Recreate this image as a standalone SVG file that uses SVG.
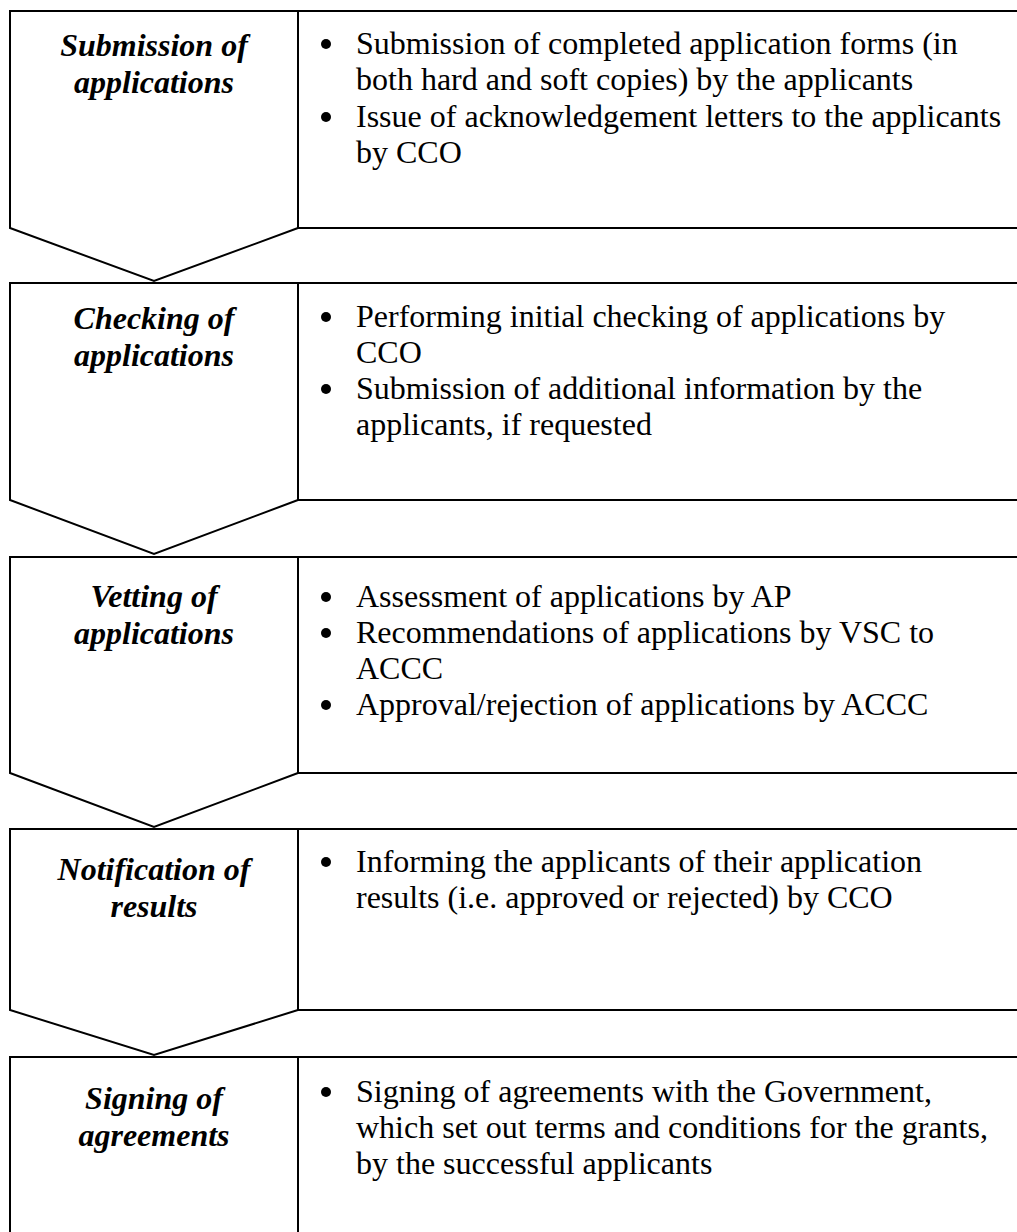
<svg xmlns="http://www.w3.org/2000/svg" width="1017" height="1232" viewBox="0 0 1017 1232">
  <style>
    .shape { fill: #ffffff; stroke: #000000; stroke-width: 2; stroke-linejoin: miter; }
    .title { font-family: "Liberation Serif", "Times New Roman", serif; font-size: 32px; font-weight: bold; font-style: italic; fill: #000000; text-anchor: middle; }
    .item  { font-family: "Liberation Serif", "Times New Roman", serif; font-size: 32px; fill: #000000; }
    .dot   { fill: #000000; }
  </style>
  <rect x="0" y="0" width="1017" height="1232" fill="#ffffff"/>

  <!-- Stage 1 -->
  <g id="stage-submission">
    <polygon class="shape" points="10,11 298,11 298,228 154,281 10,228"/>
    <rect class="shape" x="298" y="11" width="730" height="217"/>
    <text class="title" x="154" y="56">Submission of</text>
    <text class="title" x="154" y="93">applications</text>
    <circle class="dot" cx="326" cy="44" r="5"/>
    <text class="item" x="356" y="54">Submission of completed application forms (in</text>
    <text class="item" x="356" y="90">both hard and soft copies) by the applicants</text>
    <circle class="dot" cx="326" cy="117" r="5"/>
    <text class="item" x="356" y="127">Issue of acknowledgement letters to the applicants</text>
    <text class="item" x="356" y="163">by CCO</text>
  </g>

  <!-- Stage 2 -->
  <g id="stage-checking">
    <polygon class="shape" points="10,283 298,283 298,500 154,554 10,500"/>
    <rect class="shape" x="298" y="283" width="730" height="217"/>
    <text class="title" x="154" y="329">Checking of</text>
    <text class="title" x="154" y="366">applications</text>
    <circle class="dot" cx="326" cy="317" r="5"/>
    <text class="item" x="356" y="327">Performing initial checking of applications by</text>
    <text class="item" x="356" y="363">CCO</text>
    <circle class="dot" cx="326" cy="389" r="5"/>
    <text class="item" x="356" y="399">Submission of additional information by the</text>
    <text class="item" x="356" y="435">applicants, if requested</text>
  </g>

  <!-- Stage 3 -->
  <g id="stage-vetting">
    <polygon class="shape" points="10,557 298,557 298,773 154,827 10,773"/>
    <rect class="shape" x="298" y="557" width="730" height="216"/>
    <text class="title" x="154" y="607">Vetting of</text>
    <text class="title" x="154" y="644">applications</text>
    <circle class="dot" cx="326" cy="597" r="5"/>
    <text class="item" x="356" y="607">Assessment of applications by AP</text>
    <circle class="dot" cx="326" cy="633" r="5"/>
    <text class="item" x="356" y="643">Recommendations of applications by VSC to</text>
    <text class="item" x="356" y="679">ACCC</text>
    <circle class="dot" cx="326" cy="705" r="5"/>
    <text class="item" x="356" y="715">Approval/rejection of applications by ACCC</text>
  </g>

  <!-- Stage 4 -->
  <g id="stage-notification">
    <polygon class="shape" points="10,829 298,829 298,1010 154,1055 10,1010"/>
    <rect class="shape" x="298" y="829" width="730" height="181"/>
    <text class="title" x="154" y="880">Notification of</text>
    <text class="title" x="154" y="917">results</text>
    <circle class="dot" cx="326" cy="862" r="5"/>
    <text class="item" x="356" y="872">Informing the applicants of their application</text>
    <text class="item" x="356" y="908">results (i.e. approved or rejected) by CCO</text>
  </g>

  <!-- Stage 5 -->
  <g id="stage-signing">
    <polygon class="shape" points="10,1057 298,1057 298,1250 10,1250"/>
    <rect class="shape" x="298" y="1057" width="730" height="193"/>
    <text class="title" x="154" y="1109">Signing of</text>
    <text class="title" x="154" y="1146">agreements</text>
    <circle class="dot" cx="326" cy="1092" r="5"/>
    <text class="item" x="356" y="1102">Signing of agreements with the Government,</text>
    <text class="item" x="356" y="1138">which set out terms and conditions for the grants,</text>
    <text class="item" x="356" y="1174">by the successful applicants</text>
  </g>

  <!-- The stage-to-stage arrows are the pointed bottoms of the stage shapes -->
  <g id="connectors"/>
</svg>
